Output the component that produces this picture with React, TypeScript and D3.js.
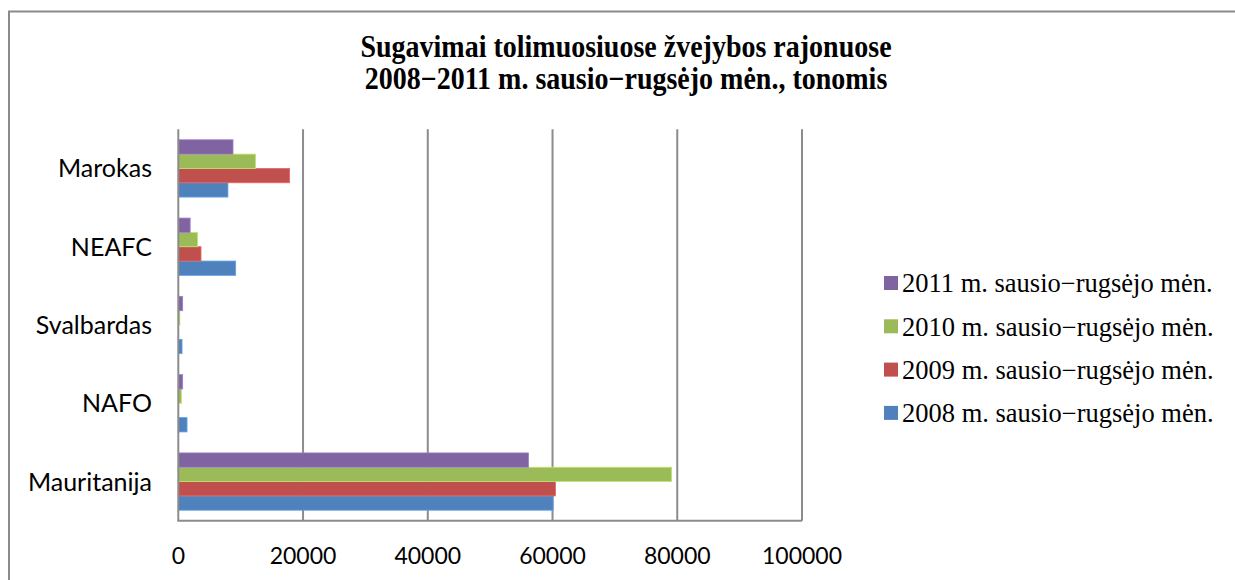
import React, { useEffect, useRef } from 'react'
import * as d3 from 'd3'

// categories listed bottom -> top as in the chart
const categories = ['Mauritanija', 'NAFO', 'Svalbardas', 'NEAFC', 'Marokas']
const seriesNames = [
  '2008 m. sausio−rugsėjo mėn.',
  '2009 m. sausio−rugsėjo mėn.',
  '2010 m. sausio−rugsėjo mėn.',
  '2011 m. sausio−rugsėjo mėn.',
]
const values2008 = [60100, 1400, 600, 9200, 7960]
const values2009 = [60480, 0, 0, 3640, 17850]
const values2010 = [79100, 500, 250, 3100, 12400]
const values2011 = [56150, 700, 700, 1900, 8770]
const colors = ['#4F81BD', '#C0504D', '#9BBB59', '#8064A2']
const xTicks = [0, 20000, 40000, 60000, 80000, 100000]
const titleLines = [
  'Sugavimai tolimuosiuose žvejybos rajonuose',
  '2008−2011 m. sausio−rugsėjo mėn., tonomis',
]

const W = 1235
const H = 580

const App = () => {
  const svgRef = useRef(null)

  useEffect(() => {
    const svg = d3.select(svgRef.current)
    svg.selectAll('*').remove()

    const allSeries = [values2008, values2009, values2010, values2011]

    const left = 178.3
    const right = 802
    const top = 129.3
    const bottom = 520.7

    const x = d3.scaleLinear().domain([0, 100000]).range([left, right])
    // bottom -> top
    const y = d3.scaleBand()
      .domain(categories)
      .range([bottom, top])
      .paddingInner(0.268)
      .paddingOuter(0.134)
    // series index 0 at bottom of group
    const ySub = d3.scaleBand()
      .domain(d3.range(seriesNames.length).map(String))
      .range([y.bandwidth(), 0])

    // frame
    svg.append('rect')
      .attr('x', 9).attr('y', 11.5)
      .attr('width', W + 20).attr('height', H + 20)
      .attr('fill', 'white')
      .attr('stroke', '#8a8a8a')
      .attr('stroke-width', 2)

    // title (slightly stretched vertically like the original)
    svg.append('g')
      .attr('transform', 'translate(626,57) scale(1,1.12)')
      .append('text')
      .attr('text-anchor', 'middle')
      .attr('font-family', '"Liberation Serif", "Times New Roman", serif')
      .attr('font-weight', 'bold')
      .attr('font-size', 28)
      .selectAll('tspan')
      .data(titleLines)
      .join('tspan')
      .attr('x', 0)
      .attr('y', (d, i) => i * 28.6)
      .text(d => d)

    // gridlines
    svg.append('g')
      .selectAll('line')
      .data(xTicks.slice(1))
      .join('line')
      .attr('x1', d => x(d)).attr('x2', d => x(d))
      .attr('y1', top).attr('y2', bottom)
      .attr('stroke', '#8c8c8c')
      .attr('stroke-width', 2)

    // bars
    allSeries.forEach((vals, si) => {
      svg.append('g')
        .selectAll('rect')
        .data(vals)
        .join('rect')
        .attr('x', x(0))
        .attr('y', (d, i) => y(categories[i]) + ySub(String(si)))
        .attr('width', d => x(d) - x(0))
        .attr('height', ySub.bandwidth())
        .attr('fill', colors[si])
        .attr('stroke', d3.color(colors[si]).brighter(0.6))
        .attr('stroke-width', d => (d > 0 ? 0.8 : 0))
    })

    // axis lines
    svg.append('line')
      .attr('x1', x(0)).attr('x2', x(0))
      .attr('y1', top).attr('y2', bottom)
      .attr('stroke', '#8c8c8c').attr('stroke-width', 2)
    svg.append('line')
      .attr('x1', x(0) - 1).attr('x2', right)
      .attr('y1', bottom).attr('y2', bottom)
      .attr('stroke', '#8c8c8c').attr('stroke-width', 2)

    // category labels
    svg.append('g')
      .selectAll('text')
      .data(categories)
      .join('text')
      .attr('x', 152)
      .attr('y', d => y(d) + y.bandwidth() / 2)
      .attr('dy', '0.36em')
      .attr('text-anchor', 'end')
      .attr('font-family', 'Lato, "Open Sans", sans-serif')
      .attr('font-size', 25)
      .attr('fill', '#000')
      .text(d => d)

    // tick labels
    svg.append('g')
      .selectAll('text')
      .data(xTicks)
      .join('text')
      .attr('x', d => x(d))
      .attr('y', 564)
      .attr('text-anchor', 'middle')
      .attr('font-family', 'Lato, "Open Sans", sans-serif')
      .attr('font-size', 23)
      .attr('fill', '#000')
      .text(d => d)

    // legend, 2011 at top
    const legendOrder = [3, 2, 1, 0]
    const lg = svg.append('g')
    legendOrder.forEach((si, k) => {
      const cy = 283 + k * 43.3
      lg.append('rect')
        .attr('x', 884).attr('y', cy - 7)
        .attr('width', 14).attr('height', 14)
        .attr('fill', colors[si])
      lg.append('text')
        .attr('x', 902).attr('y', cy)
        .attr('dy', '0.35em')
        .attr('font-family', '"Liberation Serif", "Times New Roman", serif')
        .attr('font-size', 26.5)
        .attr('fill', '#000')
        .text(seriesNames[si])
    })
  }, [])

  return (
    <svg
      ref={svgRef}
      width={W}
      height={H}
      style={{ position: 'absolute', left: 0, top: 0, background: 'white' }}
    />
  )
}

export default App
